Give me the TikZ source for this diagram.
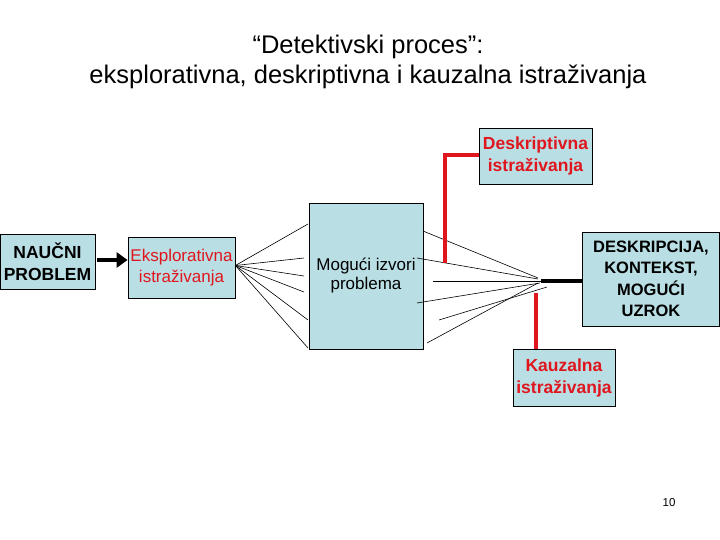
\documentclass[tikz,border=0pt]{standalone}
\usepackage{fontspec}
\setmainfont{Liberation Sans}
\usepackage{xcolor}
\usetikzlibrary{arrows.meta}
\definecolor{boxblue}{RGB}{185,222,228}
\definecolor{linkred}{RGB}{224,22,30}
\tikzset{
  box/.style={draw=black, fill=boxblue, line width=0.8pt, align=center, inner sep=1pt},
  redtext/.style={text=linkred, font=\fontsize{17}{21.5}\selectfont},
  redbold/.style={text=linkred, font=\fontsize{17.5}{22}\selectfont\bfseries},
  boldtext/.style={font=\fontsize{16.5}{21.5}\selectfont\bfseries},
  fan/.style={line width=0.6pt},
  redlink/.style={linkred, line width=4.5pt},
}

\begin{document}
\begin{tikzpicture}[x=1pt, y=-1pt]
    \useasboundingbox (0,0) rectangle (720,540);
    % title
    \node (title) at (368,62) [align=center, font=\fontsize{25.5}{29.5}\selectfont]
        {``Detektivski proces'':\\eksplorativna, deskriptivna i kauzalna istraživanja};
    % boxes
    \node[box, boldtext, font=\fontsize{17.5}{22}\selectfont\bfseries, minimum width=95pt, minimum height=55pt] (prob) at (47.5,262) {NAUČNI\\PROBLEM};
    \node[box, redtext, minimum width=107pt, minimum height=61pt] (eks) at (181.5,267.5) {Eksplorativna\\istraživanja};
    \node[box, minimum width=114pt, minimum height=146pt, font=\fontsize{17}{19}\selectfont] (mog) at (366,276) {Mogući izvori\\problema};
    \node[box, redbold, minimum width=113pt, minimum height=56pt] (des) at (535.5,156) {Deskriptivna\\istraživanja};
    \node[box, boldtext, minimum width=137pt, minimum height=94pt] (res) at (651,279) {DESKRIPCIJA,\\KONTEKST,\\MOGUĆI\\UZROK};
    \node[box, redbold, minimum width=102pt, minimum height=57pt] (kau) at (564,377.5) {Kauzalna\\istraživanja};
    % arrow problem -> exploratory
    \draw[line width=4pt, -{Triangle[length=11pt, width=15pt]}] ([xshift=2pt,yshift=2pt]prob.east) -- ([yshift=2pt]prob.east -| eks.west);
    % fan to possible sources
    \foreach \i/\x/\y in {1/308/224, 2/304/258, 3/304/276, 4/304/292, 5/308/320, 6/308/348}
        \coordinate (l\i) at (\x,\y);
    \foreach \i in {1,...,6}
        \draw[fan] ([yshift=2pt]eks.east) -- (l\i);
    % fan to the hub
    \coordinate (hub) at (541,281);
    \foreach \i/\x/\y/\u/\v in {1/423/231/538/278, 2/417/258/538/279, 3/433/281/541/281,
                                 4/417/303/540/283, 5/439/320/547/287, 6/427/343/538/283}{
        \coordinate (s\i) at (\x,\y);
        \coordinate (e\i) at (\u,\v);
        \draw[fan] (s\i) -- (e\i);
    }
    \draw[line width=4pt] (hub) -- (hub -| res.west);
    % red links
    \coordinate (dend) at (445,263);
    \draw[redlink] ([yshift=1pt]des.west) -| (dend);
    \coordinate (kend) at (536,293);
    \draw[redlink] (kau.north -| kend) -- (kend);
    % page number
    \node (page) at (669,503) [font=\fontsize{11.5}{13}\selectfont] {10};
\end{tikzpicture}
\end{document}
